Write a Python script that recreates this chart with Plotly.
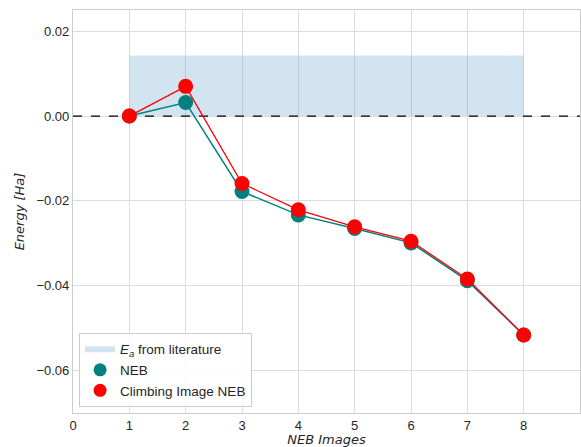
import plotly.graph_objects as go

images = [1, 2, 3, 4, 5, 6, 7, 8]
neb = [0.0, 0.0032, -0.0178, -0.0233, -0.0265, -0.0299, -0.0388, -0.0516]
ci_neb = [0.0, 0.0070, -0.0159, -0.0221, -0.0261, -0.0295, -0.0384, -0.0516]
ea_lit = 0.0143
ea_x = [1, 8]
x_ticks = [0, 1, 2, 3, 4, 5, 6, 7, 8, 9]
y_ticks = [-0.06, -0.04, -0.02, 0.0, 0.02]

TEAL = "#008080"
RED = "#ff0000"

fig = go.Figure()
fig.add_trace(go.Scatter(
    x=[ea_x[0], ea_x[1], ea_x[1], ea_x[0], ea_x[0]],
    y=[0, 0, ea_lit, ea_lit, 0],
    fill="toself", mode="none", fillcolor="rgba(31,119,180,0.2)",
    name="<i>E</i><sub><i>a</i></sub> from literature",
))
fig.add_trace(go.Scatter(
    x=[x_ticks[0], x_ticks[-1]], y=[0, 0], mode="lines",
    line=dict(color="black", dash="dash", width=1.3), showlegend=False,
))
fig.add_trace(go.Scatter(
    x=images, y=neb, mode="lines+markers", showlegend=False,
    line=dict(color=TEAL, width=1.5),
    marker=dict(color=TEAL, size=15),
))
fig.add_trace(go.Scatter(
    x=images, y=ci_neb, mode="lines+markers", showlegend=False,
    line=dict(color=RED, width=1.3),
    marker=dict(color=RED, size=15),
))
# legend-only entries (markers without line)
fig.add_trace(go.Scatter(
    x=[None], y=[None], mode="markers", name="NEB",
    marker=dict(color=TEAL, size=13),
))
fig.add_trace(go.Scatter(
    x=[None], y=[None], mode="markers", name="Climbing Image NEB",
    marker=dict(color=RED, size=13),
))

axis_common = dict(
    showgrid=True, gridcolor="#dcdcdc", gridwidth=1,
    showline=True, linecolor="#cccccc", linewidth=1.2, mirror=True,
    zeroline=False, ticks="",
    tickfont=dict(family="Liberation Sans, Arial", size=13, color="#262626"),
)

fig.update_layout(
    width=581, height=447,
    margin=dict(l=73, r=1, t=10, b=34),
    paper_bgcolor="white", plot_bgcolor="white",
    xaxis=dict(range=[0, 9], tickvals=x_ticks, **axis_common,
               title=dict(text="<i>NEB Images</i>", standoff=5,
                          font=dict(family="DejaVu Sans", size=13, color="#262626"))),
    yaxis=dict(range=[-0.07, 0.025], tickvals=y_ticks, tickformat=".2f", **axis_common,
               title=dict(text="<i>Energy [Ha]</i>", standoff=8,
                          font=dict(family="DejaVu Sans", size=13, color="#262626"))),
    legend=dict(x=0.012, y=0.015, xanchor="left", yanchor="bottom",
                bgcolor="rgba(255,255,255,0.85)", bordercolor="#cccccc", borderwidth=1,
                font=dict(family="Liberation Sans, Arial", size=13.5, color="#262626"),
                itemsizing="trace"),
)

fig.write_html("out.html")
